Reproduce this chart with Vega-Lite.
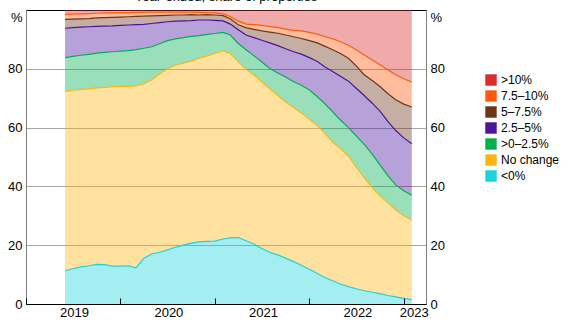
{
  "$schema": "https://vega.github.io/schema/vega-lite/v6.json",
  "width": 400,
  "height": 294,
  "autosize": {"type": "none"},
  "padding": {"left": 26, "top": 10, "right": 148, "bottom": 20},
  "title": {"text": "Year-ended, share of properties", "anchor": "middle", "offset": 6, "fontSize": 13, "fontWeight": "normal", "font": "Liberation Sans", "color": "#000"},
  "config": {"view": {"stroke": "#000"}, "font": "Liberation Sans", "axis": {"labelFont": "Liberation Sans", "labelFontSize": 13, "labelColor": "#000"}},
  "data": {"values": [
    {"date": "2019-06-01", "a_neg": 11.3, "b_none": 61.0, "c_0": 11.5, "d_25": 10.0, "e_5": 3.0, "f_75": 1.7, "g_10": 1.5},
    {"date": "2019-07-01", "a_neg": 12.0, "b_none": 60.7, "c_0": 11.5, "d_25": 9.8, "e_5": 2.9, "f_75": 1.7, "g_10": 1.4},
    {"date": "2019-08-01", "a_neg": 12.6, "b_none": 60.4, "c_0": 11.6, "d_25": 9.6, "e_5": 2.8, "f_75": 1.7, "g_10": 1.3},
    {"date": "2019-09-01", "a_neg": 13.0, "b_none": 60.2, "c_0": 11.7, "d_25": 9.4, "e_5": 2.8, "f_75": 1.7, "g_10": 1.2},
    {"date": "2019-10-01", "a_neg": 13.5, "b_none": 60.0, "c_0": 11.8, "d_25": 9.1, "e_5": 2.9, "f_75": 1.6, "g_10": 1.1},
    {"date": "2019-11-01", "a_neg": 13.4, "b_none": 60.3, "c_0": 11.9, "d_25": 8.9, "e_5": 2.9, "f_75": 1.6, "g_10": 1.0},
    {"date": "2019-12-01", "a_neg": 12.9, "b_none": 61.0, "c_0": 11.9, "d_25": 8.8, "e_5": 2.9, "f_75": 1.5, "g_10": 1.0},
    {"date": "2020-01-01", "a_neg": 12.9, "b_none": 61.1, "c_0": 12.0, "d_25": 8.8, "e_5": 2.8, "f_75": 1.5, "g_10": 0.9},
    {"date": "2020-02-01", "a_neg": 13.0, "b_none": 61.0, "c_0": 12.2, "d_25": 8.7, "e_5": 2.8, "f_75": 1.4, "g_10": 0.9},
    {"date": "2020-03-01", "a_neg": 12.3, "b_none": 61.9, "c_0": 12.3, "d_25": 8.5, "e_5": 2.8, "f_75": 1.4, "g_10": 0.8},
    {"date": "2020-04-01", "a_neg": 15.6, "b_none": 59.3, "c_0": 12.1, "d_25": 8.1, "e_5": 2.8, "f_75": 1.3, "g_10": 0.8},
    {"date": "2020-05-01", "a_neg": 17.0, "b_none": 59.3, "c_0": 11.2, "d_25": 7.9, "e_5": 2.6, "f_75": 1.3, "g_10": 0.7},
    {"date": "2020-06-01", "a_neg": 17.6, "b_none": 60.6, "c_0": 10.3, "d_25": 7.2, "e_5": 2.4, "f_75": 1.2, "g_10": 0.7},
    {"date": "2020-07-01", "a_neg": 18.4, "b_none": 61.6, "c_0": 9.6, "d_25": 6.4, "e_5": 2.2, "f_75": 1.1, "g_10": 0.7},
    {"date": "2020-08-01", "a_neg": 19.3, "b_none": 61.9, "c_0": 9.0, "d_25": 6.0, "e_5": 2.1, "f_75": 1.0, "g_10": 0.7},
    {"date": "2020-09-01", "a_neg": 20.0, "b_none": 61.9, "c_0": 8.7, "d_25": 5.7, "e_5": 2.0, "f_75": 1.0, "g_10": 0.7},
    {"date": "2020-10-01", "a_neg": 20.7, "b_none": 61.9, "c_0": 8.4, "d_25": 5.4, "e_5": 2.0, "f_75": 0.9, "g_10": 0.7},
    {"date": "2020-11-01", "a_neg": 21.1, "b_none": 62.5, "c_0": 7.7, "d_25": 5.3, "e_5": 1.7, "f_75": 0.9, "g_10": 0.8},
    {"date": "2020-12-01", "a_neg": 21.3, "b_none": 63.1, "c_0": 7.3, "d_25": 4.9, "e_5": 1.8, "f_75": 0.7, "g_10": 0.9},
    {"date": "2021-01-01", "a_neg": 21.4, "b_none": 63.8, "c_0": 6.8, "d_25": 4.5, "e_5": 1.8, "f_75": 0.7, "g_10": 1.0},
    {"date": "2021-02-01", "a_neg": 22.1, "b_none": 64.0, "c_0": 6.3, "d_25": 3.9, "e_5": 1.8, "f_75": 0.6, "g_10": 1.3},
    {"date": "2021-03-01", "a_neg": 22.5, "b_none": 62.7, "c_0": 6.3, "d_25": 3.7, "e_5": 1.8, "f_75": 0.8, "g_10": 2.2},
    {"date": "2021-04-01", "a_neg": 22.6, "b_none": 59.9, "c_0": 6.1, "d_25": 4.7, "e_5": 1.7, "f_75": 1.2, "g_10": 3.8},
    {"date": "2021-05-01", "a_neg": 21.5, "b_none": 58.3, "c_0": 6.7, "d_25": 5.0, "e_5": 2.5, "f_75": 1.2, "g_10": 4.8},
    {"date": "2021-06-01", "a_neg": 20.4, "b_none": 57.5, "c_0": 6.5, "d_25": 6.2, "e_5": 2.8, "f_75": 1.6, "g_10": 5.0},
    {"date": "2021-07-01", "a_neg": 18.9, "b_none": 56.6, "c_0": 6.8, "d_25": 7.4, "e_5": 3.2, "f_75": 1.9, "g_10": 5.2},
    {"date": "2021-08-01", "a_neg": 17.6, "b_none": 55.6, "c_0": 6.9, "d_25": 8.7, "e_5": 3.7, "f_75": 1.9, "g_10": 5.6},
    {"date": "2021-09-01", "a_neg": 16.7, "b_none": 54.2, "c_0": 7.7, "d_25": 9.3, "e_5": 4.2, "f_75": 1.9, "g_10": 6.0},
    {"date": "2021-10-01", "a_neg": 15.6, "b_none": 53.1, "c_0": 8.5, "d_25": 9.6, "e_5": 4.7, "f_75": 2.0, "g_10": 6.5},
    {"date": "2021-11-01", "a_neg": 14.4, "b_none": 52.4, "c_0": 8.8, "d_25": 10.2, "e_5": 5.1, "f_75": 2.2, "g_10": 6.9},
    {"date": "2021-12-01", "a_neg": 13.2, "b_none": 51.8, "c_0": 9.4, "d_25": 10.6, "e_5": 5.3, "f_75": 2.6, "g_10": 7.1},
    {"date": "2022-01-01", "a_neg": 11.8, "b_none": 51.0, "c_0": 10.0, "d_25": 11.0, "e_5": 5.8, "f_75": 2.8, "g_10": 7.6},
    {"date": "2022-02-01", "a_neg": 10.4, "b_none": 50.2, "c_0": 9.9, "d_25": 12.0, "e_5": 6.3, "f_75": 3.0, "g_10": 8.2},
    {"date": "2022-03-01", "a_neg": 9.0, "b_none": 49.1, "c_0": 10.1, "d_25": 12.5, "e_5": 7.0, "f_75": 3.3, "g_10": 9.0},
    {"date": "2022-04-01", "a_neg": 7.9, "b_none": 47.2, "c_0": 10.3, "d_25": 13.7, "e_5": 7.4, "f_75": 3.7, "g_10": 9.8},
    {"date": "2022-05-01", "a_neg": 6.8, "b_none": 46.0, "c_0": 9.8, "d_25": 14.9, "e_5": 7.7, "f_75": 4.0, "g_10": 10.8},
    {"date": "2022-06-01", "a_neg": 5.9, "b_none": 44.4, "c_0": 9.7, "d_25": 15.8, "e_5": 7.8, "f_75": 4.4, "g_10": 12.0},
    {"date": "2022-07-01", "a_neg": 5.2, "b_none": 41.4, "c_0": 10.6, "d_25": 16.2, "e_5": 7.6, "f_75": 5.5, "g_10": 13.5},
    {"date": "2022-08-01", "a_neg": 4.5, "b_none": 38.4, "c_0": 11.4, "d_25": 16.6, "e_5": 7.1, "f_75": 6.7, "g_10": 15.3},
    {"date": "2022-09-01", "a_neg": 4.0, "b_none": 35.6, "c_0": 11.4, "d_25": 17.3, "e_5": 7.7, "f_75": 7.0, "g_10": 17.0},
    {"date": "2022-10-01", "a_neg": 3.5, "b_none": 33.3, "c_0": 10.5, "d_25": 18.3, "e_5": 8.4, "f_75": 7.4, "g_10": 18.6},
    {"date": "2022-11-01", "a_neg": 2.9, "b_none": 31.5, "c_0": 9.2, "d_25": 18.4, "e_5": 9.5, "f_75": 8.1, "g_10": 20.4},
    {"date": "2022-12-01", "a_neg": 2.4, "b_none": 29.6, "c_0": 8.5, "d_25": 18.5, "e_5": 10.5, "f_75": 8.5, "g_10": 22.0},
    {"date": "2023-01-01", "a_neg": 1.9, "b_none": 28.1, "c_0": 8.5, "d_25": 18.0, "e_5": 11.5, "f_75": 8.6, "g_10": 23.4},
    {"date": "2023-02-01", "a_neg": 1.5, "b_none": 27.1, "c_0": 8.4, "d_25": 17.5, "e_5": 12.5, "f_75": 8.5, "g_10": 24.5}
  ]},
  "transform": [{"fold": ["a_neg", "b_none", "c_0", "d_25", "e_5", "f_75", "g_10"], "as": ["band", "share"]}],
  "encoding": {
    "x": {"field": "date", "type": "temporal",
      "scale": {"domain": [{"year": 2019, "month": 1, "date": 1, "utc": true}, {"year": 2023, "month": 3, "date": 28, "utc": true}]},
      "axis": {"orient": "bottom",
        "values": [{"year": 2019, "month": 1, "date": 1, "utc": true}, {"year": 2020, "month": 1, "date": 1, "utc": true}, {"year": 2021, "month": 1, "date": 1, "utc": true}, {"year": 2022, "month": 1, "date": 1, "utc": true}, {"year": 2023, "month": 1, "date": 1, "utc": true}],
        "labelExpr": "utcFormat(datum.value, '%Y')",
        "ticks": true, "tickSize": -6, "tickColor": "#000", "domain": true, "domainColor": "#000",
        "labelOffset": {"condition": {"test": "utcyear(datum.value) == 2023", "value": 10}, "value": 48},
        "grid": false, "labelFlush": false, "labelOverlap": false, "labelPadding": 8, "title": null, "zindex": 1}},
    "color": {"field": "band", "type": "nominal",
      "scale": {"domain": ["g_10", "f_75", "e_5", "d_25", "c_0", "b_none", "a_neg"], "range": ["#DC2B2B", "#FF5A0A", "#6E3519", "#4A14A0", "#00B050", "#FFB612", "#1CD3DB"]}},
    "order": {"field": "band", "type": "nominal", "sort": "ascending"}
  },
  "layer": [
    {
      "mark": {"type": "area", "fillOpacity": 0.4},
      "encoding": {
        "y": {"field": "share", "type": "quantitative", "stack": "zero",
          "scale": {"domain": [0, 100], "nice": false},
          "axis": {"orient": "left", "values": [0, 20, 40, 60, 80], "grid": true, "gridColor": "#a6a6a6", "ticks": false, "domainColor": "#7f7f7f", "labelPadding": 4, "title": "%", "titleAngle": 0, "titleAlign": "right", "titleBaseline": "middle", "titleX": -4, "titleY": 7, "titleFontSize": 13, "titleFontWeight": "normal", "titleFont": "Liberation Sans", "titleColor": "#000"}},
        "color": {"field": "band", "type": "nominal",
          "legend": {"orient": "none", "legendX": 459, "legendY": 64, "title": null, "symbolType": "square", "symbolSize": 130, "symbolOpacity": 1, "symbolStrokeWidth": 0, "labelFontSize": 12, "labelFont": "Liberation Sans", "labelOffset": 4, "rowPadding": 4, "labelColor": "#000",
            "labelExpr": "datum.label == 'g_10' ? '>10%' : datum.label == 'f_75' ? '7.5–10%' : datum.label == 'e_5' ? '5–7.5%' : datum.label == 'd_25' ? '2.5–5%' : datum.label == 'c_0' ? '>0–2.5%' : datum.label == 'b_none' ? 'No change' : '<0%'"}}
      }
    },
    {
      "transform": [{"filter": "datum.band != 'g_10'"}],
      "mark": {"type": "line", "strokeWidth": 1.2},
      "encoding": {
        "y": {"field": "share", "type": "quantitative", "stack": "zero",
          "axis": {"orient": "right", "values": [0, 20, 40, 60, 80], "grid": false, "ticks": false, "domainColor": "#7f7f7f", "labelPadding": 4, "title": "%", "titleAngle": 0, "titleAlign": "left", "titleBaseline": "middle", "titleX": 4, "titleY": 7, "titleFontSize": 13, "titleFontWeight": "normal", "titleFont": "Liberation Sans", "titleColor": "#000"}},
        "color": {"field": "band", "type": "nominal", "legend": null}
      }
    }
  ],
  "resolve": {"axis": {"y": "independent"}}
}
